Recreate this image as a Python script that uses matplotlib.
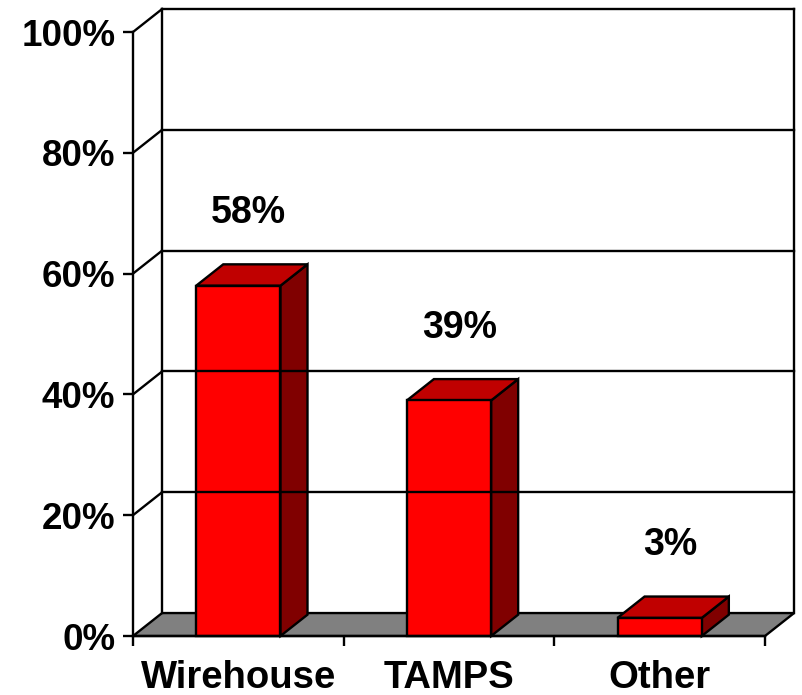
import matplotlib
matplotlib.use("Agg")
import matplotlib.pyplot as plt
from matplotlib.patches import Polygon

plt.rcParams['font.family'] = ['Liberation Sans', 'DejaVu Sans']
plt.rcParams['font.weight'] = 'bold'

categories = ['Wirehouse', 'TAMPS', 'Other']
values = [58, 39, 3]
y_ticks = [0, 20, 40, 60, 80, 100]

# depth of the fake 3d box, in data units
DX = 0.138
DY = 3.8
BAR_W = 0.40
BAR_D = 0.93

face_col = '#FF0000'
top_col = '#C00000'
side_col = '#800000'
floor_col = '#808080'
LW = 1.7

fig = plt.figure(figsize=(8.02, 6.95), dpi=100)
ax = fig.add_axes([133 / 802, (695 - 636) / 695, 632 / 802, 604 / 695])
ax.set_xlim(-0.5, 2.5)
ax.set_ylim(0, 100)
ax.set_facecolor('none')

x0, x1 = -0.5, 2.5

# back wall gridlines + frame
for t in y_ticks[1:]:
    ax.plot([x0 + DX, x1 + DX], [t + DY, t + DY], color='black', lw=LW, clip_on=False)
    # side wall diagonal
    ax.plot([x0, x0 + DX], [t, t + DY], color='black', lw=LW, clip_on=False)
ax.plot([x0 + DX, x0 + DX], [DY, 100 + DY], color='black', lw=LW, clip_on=False)
ax.plot([x1 + DX, x1 + DX], [DY, 100 + DY], color='black', lw=LW, clip_on=False)

# floor
floor = Polygon([(x0, 0), (x1, 0), (x1 + DX, DY), (x0 + DX, DY)], closed=True,
                facecolor=floor_col, edgecolor='black', lw=LW, clip_on=False)
ax.add_patch(floor)

# bars
for i, v in enumerate(values):
    l = i - BAR_W / 2
    r = i + BAR_W / 2
    dx = DX * BAR_D
    dy = DY * BAR_D
    front = Polygon([(l, 0), (r, 0), (r, v), (l, v)], closed=True,
                    facecolor=face_col, edgecolor='black', lw=LW, clip_on=False)
    top = Polygon([(l, v), (r, v), (r + dx, v + dy), (l + dx, v + dy)], closed=True,
                  facecolor=top_col, edgecolor='black', lw=LW, clip_on=False)
    side = Polygon([(r, 0), (r + dx, dy), (r + dx, v + dy), (r, v)], closed=True,
                   facecolor=side_col, edgecolor='black', lw=LW, clip_on=False)
    ax.add_patch(side)
    ax.add_patch(top)
    ax.add_patch(front)
    ax.text(i + 0.05, v + 12, '{}%'.format(v), ha='center', va='center',
            fontsize=27, fontweight='bold')

# axes: only the front left and bottom edges
for s in ['top', 'right']:
    ax.spines[s].set_visible(False)
for s in ['left', 'bottom']:
    ax.spines[s].set_linewidth(LW)
    ax.spines[s].set_zorder(5)

ax.set_yticks(y_ticks)
ax.set_yticklabels(['{}%'.format(t) for t in y_ticks])
ax.tick_params(axis='y', length=7.2, width=LW, pad=5.5, labelsize=26.5)

ax.set_xticks([-0.5, 0.5, 1.5, 2.5])
ax.set_xticklabels([])
ax.set_xticks([0, 1, 2], minor=True)
ax.set_xticklabels(categories, minor=True)
ax.tick_params(axis='x', which='major', length=7.2, width=LW)
ax.tick_params(axis='x', which='minor', length=0, pad=17, labelsize=27.5)

fig.savefig('out.png', dpi=100)
